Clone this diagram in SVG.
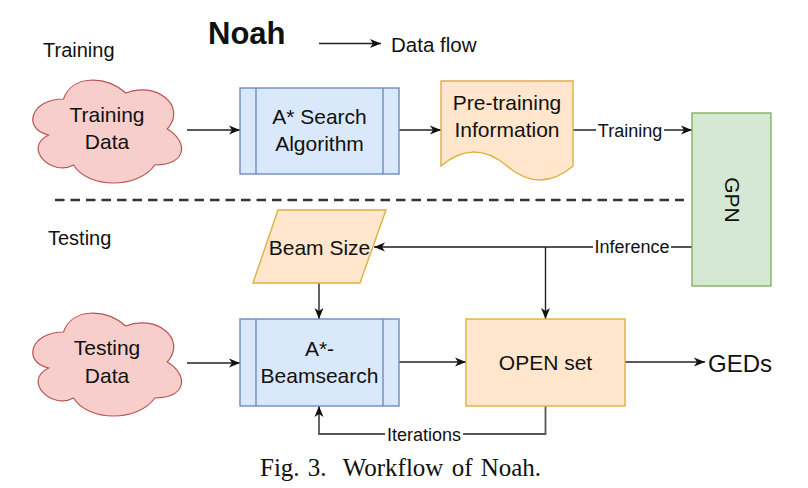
<svg xmlns="http://www.w3.org/2000/svg" width="808" height="488" viewBox="0 0 808 488">
<style>
  .t { font-family: "Liberation Sans", Arial, Helvetica, sans-serif; fill: #111; }
  .node { font-size: 21px; text-anchor: middle; }
  .lbl { font-size: 18px; text-anchor: middle; }
  .blue { fill: #dae8fc; stroke: #6c8ebf; stroke-width: 1.4; }
  .orange { fill: #ffe6cc; stroke: #e0b040; stroke-width: 1.4; }
  .green { fill: #d5e8d4; stroke: #82b366; stroke-width: 1.4; }
  .red { fill: #f8cecc; stroke: #b85450; stroke-width: 1.2; }
  .edge { fill: none; stroke: #222; stroke-width: 1.4; }
  .gedge { fill: none; stroke: #555; stroke-width: 1.8; }
  .lblbg { fill: #fff; }
</style>
<defs>
  <marker id="arr" markerUnits="userSpaceOnUse" markerWidth="12" markerHeight="10" refX="11" refY="5" orient="auto">
    <path d="M0,0.5 L11,5 L0,9.5 L3,5 Z" fill="#111"/>
  </marker>
  <path id="cloud" d="M63.5,99 C30.3,99 22,129 48.6,135 C22,148.2 51.9,177 73.5,165 C88.4,189 138.2,189 154.8,165 C188,165 188,141 167.3,129 C188,105 154.8,81 125.8,93 C105,75 71.8,75 63.5,99 Z"/>
</defs>

<rect width="808" height="488" fill="#fff"/>

<!-- headings -->
<g id="headings">
  <text class="t" x="43" y="57" font-size="20">Training</text>
  <text class="t" x="48" y="245" font-size="20">Testing</text>
  <text class="t" x="208" y="44" font-size="31" font-weight="bold">Noah</text>
</g>

<!-- legend -->
<g id="legend">
  <line class="edge" x1="319" y1="43.5" x2="381" y2="43.5" marker-end="url(#arr)"/>
  <text class="t" x="391" y="52" font-size="20.5">Data flow</text>
</g>

<!-- separator -->
<g id="separator">
  <line x1="55" y1="200" x2="684" y2="200" stroke="#333" stroke-width="2.6" stroke-dasharray="9.5 6"/>
</g>

<!-- connectors -->
<g id="connectors">
  <line class="edge" x1="187" y1="130" x2="240" y2="130" marker-end="url(#arr)"/>
  <line class="edge" x1="399" y1="130" x2="441" y2="130" marker-end="url(#arr)"/>
  <line class="edge" x1="573" y1="130" x2="692" y2="130" marker-end="url(#arr)"/>
  <line class="gedge" x1="692" y1="247" x2="374" y2="247" marker-end="url(#arr)"/>
  <line class="edge" x1="545.5" y1="247" x2="545.5" y2="319" marker-end="url(#arr)"/>
  <line class="edge" x1="319" y1="283" x2="319" y2="319" marker-end="url(#arr)"/>
  <line class="edge" x1="187" y1="363" x2="240" y2="363" marker-end="url(#arr)"/>
  <line class="edge" x1="399" y1="362" x2="466" y2="362" marker-end="url(#arr)"/>
  <line class="edge" x1="625" y1="362" x2="705" y2="362" marker-end="url(#arr)"/>
  <polyline class="gedge" points="545.5,406 545.5,434 319,434 319,406" marker-end="url(#arr)"/>
  <!-- edge labels -->
  <rect class="lblbg" x="596" y="120" width="68" height="20"/>
  <text class="t lbl" x="630" y="137">Training</text>
  <rect class="lblbg" x="593" y="237" width="78" height="20"/>
  <text class="t lbl" x="632" y="253">Inference</text>
  <rect class="lblbg" x="385" y="424" width="78" height="20"/>
  <text class="t lbl" x="424" y="441">Iterations</text>
</g>

<!-- nodes -->
<g id="training-data">
  <use href="#cloud" class="red"/>
  <text class="t node" x="107" y="122">Training</text>
  <text class="t node" x="107" y="149">Data</text>
</g>

<g id="astar-search">
  <rect class="blue" x="240" y="88" width="159" height="86"/>
  <line x1="256" y1="88" x2="256" y2="174" stroke="#6c8ebf" stroke-width="1.4"/>
  <line x1="383" y1="88" x2="383" y2="174" stroke="#6c8ebf" stroke-width="1.4"/>
  <text class="t node" x="319.5" y="124">A* Search</text>
  <text class="t node" x="319.5" y="151">Algorithm</text>
</g>

<g id="pretraining-info">
  <path class="orange" d="M441,81 L573,81 L573,166 Q540,194 507,166 Q474,138 441,166 Z"/>
  <text class="t node" x="507" y="110">Pre-training</text>
  <text class="t node" x="507" y="137">Information</text>
</g>

<g id="gpn">
  <rect class="green" x="692" y="113" width="79" height="173"/>
  <text class="t node" transform="translate(732,200) rotate(90)" x="0" y="7.5">GPN</text>
</g>

<g id="beam-size">
  <polygon class="orange" points="278,210 386,210 360,283 253,283"/>
  <text class="t node" x="319.5" y="255">Beam Size</text>
</g>

<g id="testing-data">
  <use href="#cloud" class="red" y="233"/>
  <text class="t node" x="107" y="355">Testing</text>
  <text class="t node" x="107" y="383">Data</text>
</g>

<g id="astar-beamsearch">
  <rect class="blue" x="240" y="319" width="159" height="87"/>
  <line x1="256" y1="319" x2="256" y2="406" stroke="#6c8ebf" stroke-width="1.4"/>
  <line x1="383" y1="319" x2="383" y2="406" stroke="#6c8ebf" stroke-width="1.4"/>
  <text class="t node" x="319.5" y="356">A*-</text>
  <text class="t node" x="319.5" y="383">Beamsearch</text>
</g>

<g id="open-set">
  <rect class="orange" x="466" y="319" width="159" height="87"/>
  <text class="t node" x="545.5" y="370">OPEN set</text>
</g>

<g id="geds">
  <text class="t" x="708" y="372" font-size="24">GEDs</text>
</g>

<g id="caption">
  <text x="260" y="476" font-family="'Liberation Serif', 'Times New Roman', serif" font-size="25" word-spacing="2" fill="#111" xml:space="preserve">Fig. 3.  Workflow of Noah.</text>
</g>
</svg>
